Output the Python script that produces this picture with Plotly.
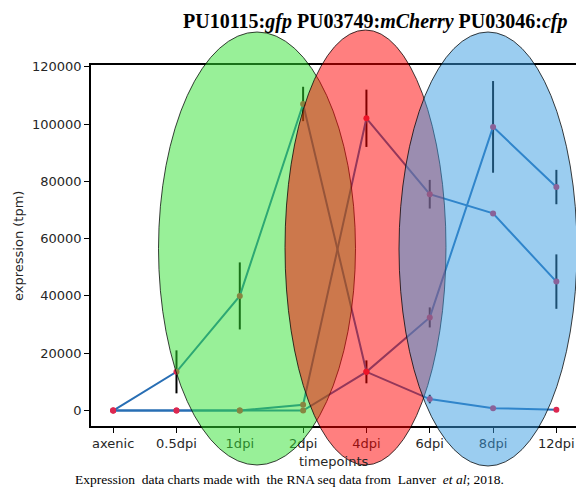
import plotly.graph_objects as go

categories = ["axenic", "0.5dpi", "1dpi", "2dpi", "4dpi", "6dpi", "8dpi", "12dpi"]

gfp = [0, 13500, 40000, 107000, 13500, 4000, 800, 300]
gfp_err = [0, 7500, 11700, 6000, 4000, 1500, 0, 0]

mcherry = [0, 0, 0, 2000, 102000, 75500, 68800, 45000]
mcherry_err = [0, 0, 0, 0, 10000, 5000, 0, 9500]

cfp = [0, 0, 0, 0, 13500, 32500, 99000, 78000]
cfp_err = [0, 0, 0, 0, 0, 3500, 16000, 6000]

y_ticks = [0, 20000, 40000, 60000, 80000, 100000, 120000]

LINE = "rgb(40,110,180)"
MARK = "rgb(220,40,80)"

fig = go.Figure()
for name, vals, errs in [("gfp", gfp, gfp_err), ("mCherry", mcherry, mcherry_err), ("cfp", cfp, cfp_err)]:
    fig.add_trace(go.Scatter(
        x=categories, y=vals, name=name, mode="lines+markers",
        line=dict(color=LINE, width=2),
        marker=dict(color=MARK, size=6),
        error_y=dict(type="data", array=errs, visible=True, color="black", thickness=2, width=0),
        showlegend=False,
    ))

W, H = 576, 495
L, R, T, B = 91, 0, 65, 69
PW, PH = W - L - R, H - T - B

def px(x):
    return (x - L) / PW

def py(y):
    return (H - B - y) / PH

ellipses = [
    (158.5, 355.5, 32, 465, "rgba(50,225,50,0.5)"),
    (285, 446, 30, 465, "rgba(255,0,0,0.5)"),
    (399, 577, 32, 466, "rgba(55,155,225,0.5)"),
]
shapes = []
for x0, x1, y0, y1, col in ellipses:
    shapes.append(dict(type="circle", xref="paper", yref="paper",
                       x0=px(x0), x1=px(x1), y0=py(y1), y1=py(y0),
                       fillcolor=col, line=dict(color="rgba(0,0,0,0.75)", width=1),
                       layer="above"))

tickfont = dict(family="DejaVu Sans", size=13, color="#262626")

fig.update_layout(
    width=W, height=H,
    margin=dict(l=L, r=R, t=T, b=B, pad=0),
    paper_bgcolor="white", plot_bgcolor="white",
    shapes=shapes,
    xaxis=dict(type="category", categoryorder="array", categoryarray=categories,
               range=[-0.35, 7.31], showgrid=False, zeroline=False,
               showline=True, linecolor="black", linewidth=1.5, mirror=True,
               ticks="outside", ticklen=5, tickwidth=1.3, tickcolor="black",
               tickfont=tickfont, automargin=False),
    yaxis=dict(range=[-5400, 120600], tickvals=y_ticks,
               ticktext=[str(v) for v in y_ticks],
               showgrid=False, zeroline=False,
               showline=True, linecolor="black", linewidth=1.5,
               ticks="outside", ticklen=5, tickwidth=1.3, tickcolor="black",
               tickfont=tickfont, automargin=False),
    annotations=[
        dict(text="<b>PU10115:<i>gfp</i> PU03749:<i>mCherry</i> PU03046:<i>cfp</i></b>",
             xref="paper", yref="paper", x=px(569), y=py(21), xanchor="right", yanchor="middle",
             showarrow=False, font=dict(family="Liberation Serif", size=20, color="black")),
        dict(text="timepoints", xref="paper", yref="paper", x=px(334), y=py(461),
             xanchor="center", yanchor="middle", showarrow=False,
             font=dict(family="DejaVu Sans", size=13, color="#262626")),
        dict(text="expression (tpm)", xref="paper", yref="paper", x=px(18), y=py(246),
             xanchor="center", yanchor="middle", textangle=-90, showarrow=False,
             font=dict(family="DejaVu Sans", size=13, color="#262626")),
        dict(text="Expression\u00a0 data charts made with\u00a0 the RNA seq data from\u00a0 Lanver\u00a0 <i>et al</i>; 2018.",
             xref="paper", yref="paper", x=px(289), y=py(479),
             xanchor="center", yanchor="middle", showarrow=False,
             font=dict(family="Liberation Serif", size=13.5, color="black")),
    ],
)

fig.write_html("out.html", post_script="document.body.style.margin='0';",
               config={"displayModeBar": False})
